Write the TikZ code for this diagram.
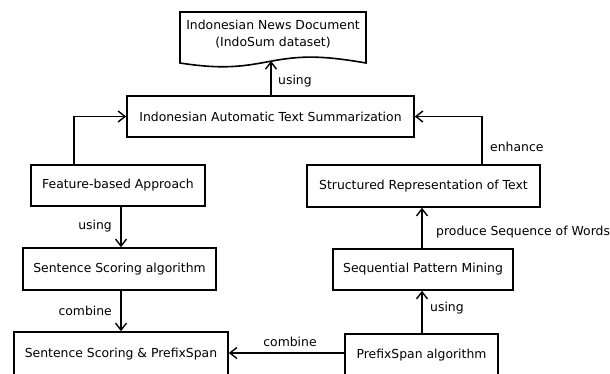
\documentclass[tikz,border=0pt]{standalone}
\usepackage{fontspec}
\setmainfont{DejaVu Sans}
\usetikzlibrary{arrows.meta}
\begin{document}
\begin{tikzpicture}[x=1pt,y=-1pt,
  box/.style={draw,line width=1.6pt,inner sep=0pt,font=\fontsize{12.4}{17}\selectfont},
  arr/.style={line width=1.6pt,-{Straight Barb[length=7pt,width=11pt,line width=1.4pt]}},
  lab/.style={font=\fontsize{12.4}{17}\selectfont,inner sep=0pt}]
\useasboundingbox (0,0) rectangle (610,374);
% document shape
\draw[line width=1.6pt] (180,12) -- (366,12) -- (366,63)
  .. controls (320,55) and (300,56) .. (272,61)
  .. controls (245,66) and (225,70) .. (180,63) -- cycle;
\node[lab,align=center] (doc) at (273,34) {Indonesian News Document\\(IndoSum dataset)};
\coordinate (docb) at (271,61);
\node[box,minimum width=287pt,minimum height=41pt] (its) at (270.5,116.5) {Indonesian Automatic Text Summarization};
\node[box,minimum width=174pt,minimum height=41pt] (feat) at (118,185.5) {Feature-based Approach};
\node[box,minimum width=233pt,minimum height=42pt] (struct) at (423.5,186) {Structured Representation of Text};
\node[box,minimum width=193pt,minimum height=42pt] (ssa) at (119.5,269) {Sentence Scoring algorithm};
\node[box,minimum width=180pt,minimum height=41pt] (spm) at (423,269.5) {Sequential Pattern Mining};
\node[box,minimum width=214pt,minimum height=44pt] (ssps) at (121,354) {Sentence Scoring \& PrefixSpan};
\node[box,minimum width=153pt,minimum height=42pt] (psa) at (421.5,355) {PrefixSpan algorithm};
% connectors
\draw[arr] (its.north -| docb) -- (docb);
\draw[arr] ([xshift=-44pt]feat.north) |- (its.west);
\draw[arr] ([xshift=58.5pt]struct.north) |- (its.east);
\draw[arr] ([xshift=3pt]feat.south) -- ([xshift=1.5pt]ssa.north);
\draw[arr] ([xshift=1.5pt]ssa.south) -- (ssps.north);
\draw[arr] (spm.north -| 422,0) -- (struct.south -| 422,0);
\draw[arr] (psa.north -| 422,0) -- (spm.south -| 422,0);
\draw[arr] (psa.west |- 0,353) -- (ssps.east |- 0,353);
% labels
\node[lab,anchor=west] (l1) at (278,81) {using};
\node[lab,anchor=west] (l2) at (490,147) {enhance};
\node[lab,anchor=east] (l3) at (112,226) {using};
\node[lab,anchor=west] (l4) at (436,232) {produce Sequence of Words};
\node[lab,anchor=east] (l5) at (112,311) {combine};
\node[lab,anchor=west] (l6) at (430,308) {using};
\node[lab] (l7) at (290,342) {combine};
\end{tikzpicture}
\end{document}
